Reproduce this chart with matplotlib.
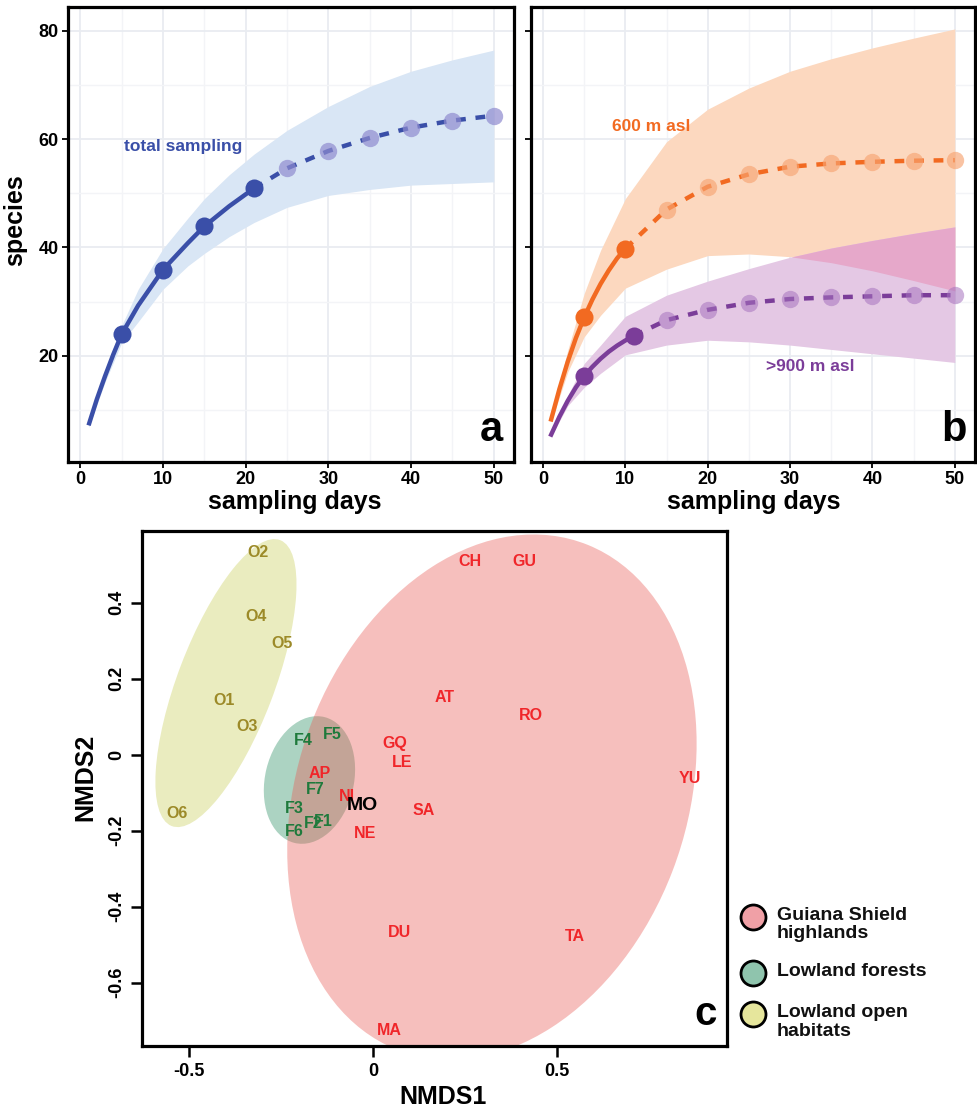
import matplotlib
matplotlib.use("Agg")
import matplotlib.pyplot as plt
import numpy as np
from matplotlib.patches import Ellipse

plt.rcParams['font.family'] = ['Liberation Sans', 'DejaVu Sans']
plt.rcParams['font.weight'] = 'bold'
plt.rcParams['axes.labelweight'] = 'bold'

# ---- panel a: total sampling (rarefaction / extrapolation) ----
tot_curve_x = [1, 2, 3, 4, 5, 7, 10, 13, 15, 18, 21]
tot_curve_y = [7.2, 12.0, 16.3, 20.3, 24.0, 29.3, 35.9, 40.8, 43.9, 47.6, 50.9]
tot_obs_x = [5, 10, 15, 21]
tot_obs_y = [24.0, 35.9, 43.9, 50.9]
tot_ext_x = [21, 25, 30, 35, 40, 45, 50]
tot_ext_y = [50.9, 54.6, 57.8, 60.2, 62.1, 63.4, 64.3]
tot_band_x = [1, 3, 5, 7, 10, 13, 15, 18, 21, 25, 30, 35, 40, 45, 50]
tot_band_lo = [6.8, 15.2, 22.4, 26.3, 32.3, 36.6, 38.9, 42.0, 44.6, 47.4, 49.6, 50.7, 51.5, 51.8, 52.1]
tot_band_hi = [7.6, 17.4, 25.6, 32.3, 39.8, 45.4, 49.0, 53.4, 57.2, 61.6, 66.0, 69.7, 72.5, 74.6, 76.4]

# ---- panel b: 600 m asl and >900 m asl ----
low_curve_x = [1, 2, 3, 4, 5, 6, 7, 8, 9, 10]
low_curve_y = [8.3, 13.9, 18.9, 23.3, 27.1, 30.4, 33.3, 35.8, 38.0, 39.8]
low_obs_x = [5, 10]
low_obs_y = [27.1, 39.8]
low_ext_x = [10, 15, 20, 25, 30, 35, 40, 45, 50]
low_ext_y = [39.8, 47.0, 51.2, 53.5, 54.9, 55.5, 55.8, 56.0, 56.1]

high_curve_x = [1, 2, 3, 4, 5, 6, 7, 8, 9, 10, 11]
high_curve_y = [5.5, 8.8, 11.7, 14.2, 16.3, 18.0, 19.5, 20.8, 21.9, 22.85, 23.7]
high_obs_x = [5, 11]
high_obs_y = [16.3, 23.7]
high_ext_x = [11, 15, 20, 25, 30, 35, 40, 45, 50]
high_ext_y = [23.7, 26.6, 28.5, 29.8, 30.5, 30.8, 31.0, 31.2, 31.2]

band_b_x = [1, 3, 5, 7, 10, 15, 20, 25, 30, 35, 40, 45, 50]
low_band_lo = [7.8, 17.0, 23.5, 27.5, 32.5, 36.0, 38.5, 38.8, 38.3, 37.2, 35.7, 33.9, 32.0]
low_band_hi = [8.8, 21.0, 31.5, 39.5, 49.0, 59.5, 65.5, 69.4, 72.5, 74.8, 76.8, 78.6, 80.3]
high_band_lo = [5.2, 10.8, 14.2, 16.8, 20.2, 22.0, 22.9, 22.6, 22.0, 21.2, 20.4, 19.6, 18.8]
high_band_hi = [5.8, 12.7, 18.6, 22.0, 27.3, 31.2, 33.8, 36.1, 38.2, 39.9, 41.3, 42.6, 43.8]

# ---- panel c: NMDS ----
site_names = ['O1', 'O2', 'O3', 'O4', 'O5', 'O6',
              'F1', 'F2', 'F3', 'F4', 'F5', 'F6', 'F7',
              'AP', 'AT', 'CH', 'DU', 'GQ', 'GU', 'LE', 'MA', 'NE', 'NI',
              'RO', 'SA', 'TA', 'YU', 'MO']
site_x = [-0.405, -0.312, -0.343, -0.318, -0.248, -0.532,
          -0.135, -0.162, -0.214, -0.189, -0.111, -0.214, -0.158,
          -0.144, 0.193, 0.264, 0.071, 0.058, 0.410, 0.078, 0.044, -0.022, -0.071,
          0.429, 0.137, 0.549, 0.861, -0.029]
site_y = [0.142, 0.532, 0.073, 0.363, 0.293, -0.155,
          -0.177, -0.181, -0.143, 0.038, 0.053, -0.203, -0.092,
          -0.051, 0.150, 0.509, -0.469, 0.029, 0.509, -0.021, -0.725, -0.207, -0.111,
          0.104, -0.146, -0.478, -0.064, -0.135]
site_group = ['open'] * 6 + ['forest'] * 7 + ['high'] * 14 + ['other']

# group ellipses: centre, width, height, angle
ell_groups = ['open', 'forest', 'high']
ell_cx = [-0.400, -0.173, 0.323]
ell_cy = [0.188, -0.067, -0.112]
ell_w = [0.262, 0.241, 1.056]
ell_h = [0.808, 0.341, 1.426]
ell_ang = [-21.5, -14.2, -21.5]

legend_labels = ['Guiana Shield\nhighlands', 'Lowland forests', 'Lowland open\nhabitats']

BLUE = '#3a4fa8'
ORANGE = '#f26a21'
PURPLE = '#7b3d99'
text_col = {'open': '#9c8a28', 'forest': '#1f7a3c', 'high': '#f0262a', 'other': 'black'}

fig = plt.figure(figsize=(9.78, 11.10), dpi=100)

W, H = 978.0, 1110.0


def frac(l, t, r, b):
    return [l / W, 1 - b / H, (r - l) / W, (b - t) / H]


def style_top(ax):
    ax.set_xlim(-1.45, 52.45)
    ax.set_ylim(0.5, 84.4)
    ax.set_xticks([0, 10, 20, 30, 40, 50])
    ax.set_xticks([5, 15, 25, 35, 45], minor=True)
    ax.set_yticks([20, 40, 60, 80])
    ax.set_yticks([10, 30, 50, 70], minor=True)
    ax.grid(which='major', color='#e9ecf1', lw=1.3)
    ax.grid(which='minor', color='#f3f4f7', lw=1.0)
    ax.set_axisbelow(True)
    ax.tick_params(which='minor', length=0)
    ax.tick_params(which='major', direction='out', length=4, width=1.3,
                   labelsize=13, pad=3)
    for s in ax.spines.values():
        s.set_linewidth(2.3)


dash = (0, (2.2, 2.2))

# panel a
ax_a = fig.add_axes(frac(68.3, 6.7, 514, 461.7))
style_top(ax_a)
ax_a.fill_between(tot_band_x, tot_band_lo, tot_band_hi, color='#d9e6f5', lw=0)
ax_a.plot(tot_ext_x, tot_ext_y, color=BLUE, lw=3.2, ls=dash)
ax_a.plot(tot_ext_x[1:], tot_ext_y[1:], 'o', ms=12.5, color='#8f8bcf', alpha=0.7, mew=0)
ax_a.plot(tot_curve_x, tot_curve_y, color=BLUE, lw=3.2, solid_capstyle='butt')
ax_a.plot(tot_obs_x, tot_obs_y, 'o', ms=13, color=BLUE, mew=0)
ax_a.text(12.5, 58.6, 'total sampling', color=BLUE, fontsize=12.5,
          fontweight='bold', ha='center', va='center')
ax_a.text(0.975, 0.025, 'a', transform=ax_a.transAxes, fontsize=30,
          fontweight='bold', ha='right', va='bottom')
ax_a.set_ylabel('species', fontsize=18, fontweight='bold')
ax_a.yaxis.set_label_coords(-0.093, 0.53)
ax_a.set_xlabel('sampling days', fontsize=18, fontweight='bold')
ax_a.xaxis.set_label_coords(0.509, -0.062)
ax_a.xaxis.label.set_va('top')

# panel b
ax_b = fig.add_axes(frac(531, 6.7, 975, 461.7))
style_top(ax_b)
ax_b.tick_params(labelleft=False)
ax_b.fill_between(band_b_x, low_band_lo, low_band_hi, color='#fcd8bf', lw=0)
ax_b.fill_between(band_b_x, high_band_lo, high_band_hi, color='#e4c8e4', lw=0)
ax_b.fill_between(band_b_x, low_band_lo, high_band_hi,
                  where=np.array(high_band_hi) > np.array(low_band_lo),
                  interpolate=True, color='#e6a8ca', lw=0)
ax_b.plot(low_ext_x, low_ext_y, color=ORANGE, lw=3.2, ls=dash)
ax_b.plot(low_ext_x[1:], low_ext_y[1:], 'o', ms=12.5, color='#f7a472', alpha=0.65, mew=0)
ax_b.plot(low_curve_x, low_curve_y, color=ORANGE, lw=3.2)
ax_b.plot(low_obs_x, low_obs_y, 'o', ms=13, color=ORANGE, mew=0)
ax_b.plot(high_ext_x, high_ext_y, color=PURPLE, lw=3.2, ls=dash)
ax_b.plot(high_ext_x[1:], high_ext_y[1:], 'o', ms=12.5, color='#a673be', alpha=0.55, mew=0)
ax_b.plot(high_curve_x, high_curve_y, color=PURPLE, lw=3.2)
ax_b.plot(high_obs_x, high_obs_y, 'o', ms=13, color=PURPLE, mew=0)
ax_b.text(13.2, 62.4, '600 m asl', color=ORANGE, fontsize=12.5,
          fontweight='bold', ha='center', va='center')
ax_b.text(32.4, 18.1, '>900 m asl', color=PURPLE, fontsize=12.5,
          fontweight='bold', ha='center', va='center')
ax_b.text(0.982, 0.025, 'b', transform=ax_b.transAxes, fontsize=30,
          fontweight='bold', ha='right', va='bottom')
ax_b.set_xlabel('sampling days', fontsize=18, fontweight='bold')
ax_b.xaxis.set_label_coords(0.502, -0.062)
ax_b.xaxis.label.set_va('top')

# panel c
ax_c = fig.add_axes(frac(141.7, 530.7, 727, 1046))
ax_c.set_xlim(-0.629, 0.962)
ax_c.set_ylim(-0.767, 0.589)
fills = {'open': ('#eaecbf', 1.0), 'forest': ('#acd3c2', 1.0), 'high': ('#e85c55', 0.39)}
for g, cx, cy, w, h, a in zip(ell_groups, ell_cx, ell_cy, ell_w, ell_h, ell_ang):
    col, al = fills[g]
    ax_c.add_patch(Ellipse((cx, cy), w, h, angle=a, facecolor=col, alpha=al,
                           lw=0, zorder=1))
for name, x, y, g in zip(site_names, site_x, site_y, site_group):
    ax_c.text(x, y, name, color=text_col[g], fontsize=14 if g == 'other' else 11.5,
              fontweight='bold', ha='center', va='center', zorder=3)
ax_c.set_xticks([-0.5, 0, 0.5])
ax_c.set_xticklabels(['-0.5', '0', '0.5'])
ax_c.set_yticks([-0.6, -0.4, -0.2, 0, 0.2, 0.4])
ax_c.set_yticklabels(['-0.6', '-0.4', '-0.2', '0', '0.2', '0.4'])
ax_c.tick_params(direction='out', length=8, width=1.8, labelsize=13, pad=4)
ax_c.tick_params(axis='y', labelrotation=90)
for lab in ax_c.get_yticklabels():
    lab.set_va('center')
for s in ax_c.spines.values():
    s.set_linewidth(2.3)
ax_c.text(0.983, 0.025, 'c', transform=ax_c.transAxes, fontsize=29,
          fontweight='bold', ha='right', va='bottom')
ax_c.set_xlabel('NMDS1', fontsize=18, fontweight='bold')
ax_c.xaxis.set_label_coords(0.515, -0.076)
ax_c.xaxis.label.set_va('top')
ax_c.set_ylabel('NMDS2', fontsize=18, fontweight='bold')
ax_c.yaxis.set_label_coords(-0.076, 0.522)

# legend for panel c
leg_cols = ['#f0a0a6', '#8fc4ad', '#e6e69c']
leg_y = [916.7, 973, 1014]
for lab, col, y in zip(legend_labels, leg_cols, leg_y):
    fig.add_artist(plt.Line2D([753 / W], [1 - y / H], marker='o', ms=18,
                              mfc=col, mec='black', mew=2, ls='none',
                              transform=fig.transFigure))
    fig.text(777 / W, 1 - (y - 10) / H, lab, fontsize=14, fontweight='bold',
             ha='left', va='top', linespacing=1.12, color='#111111')

fig.savefig('out.png', dpi=100)
